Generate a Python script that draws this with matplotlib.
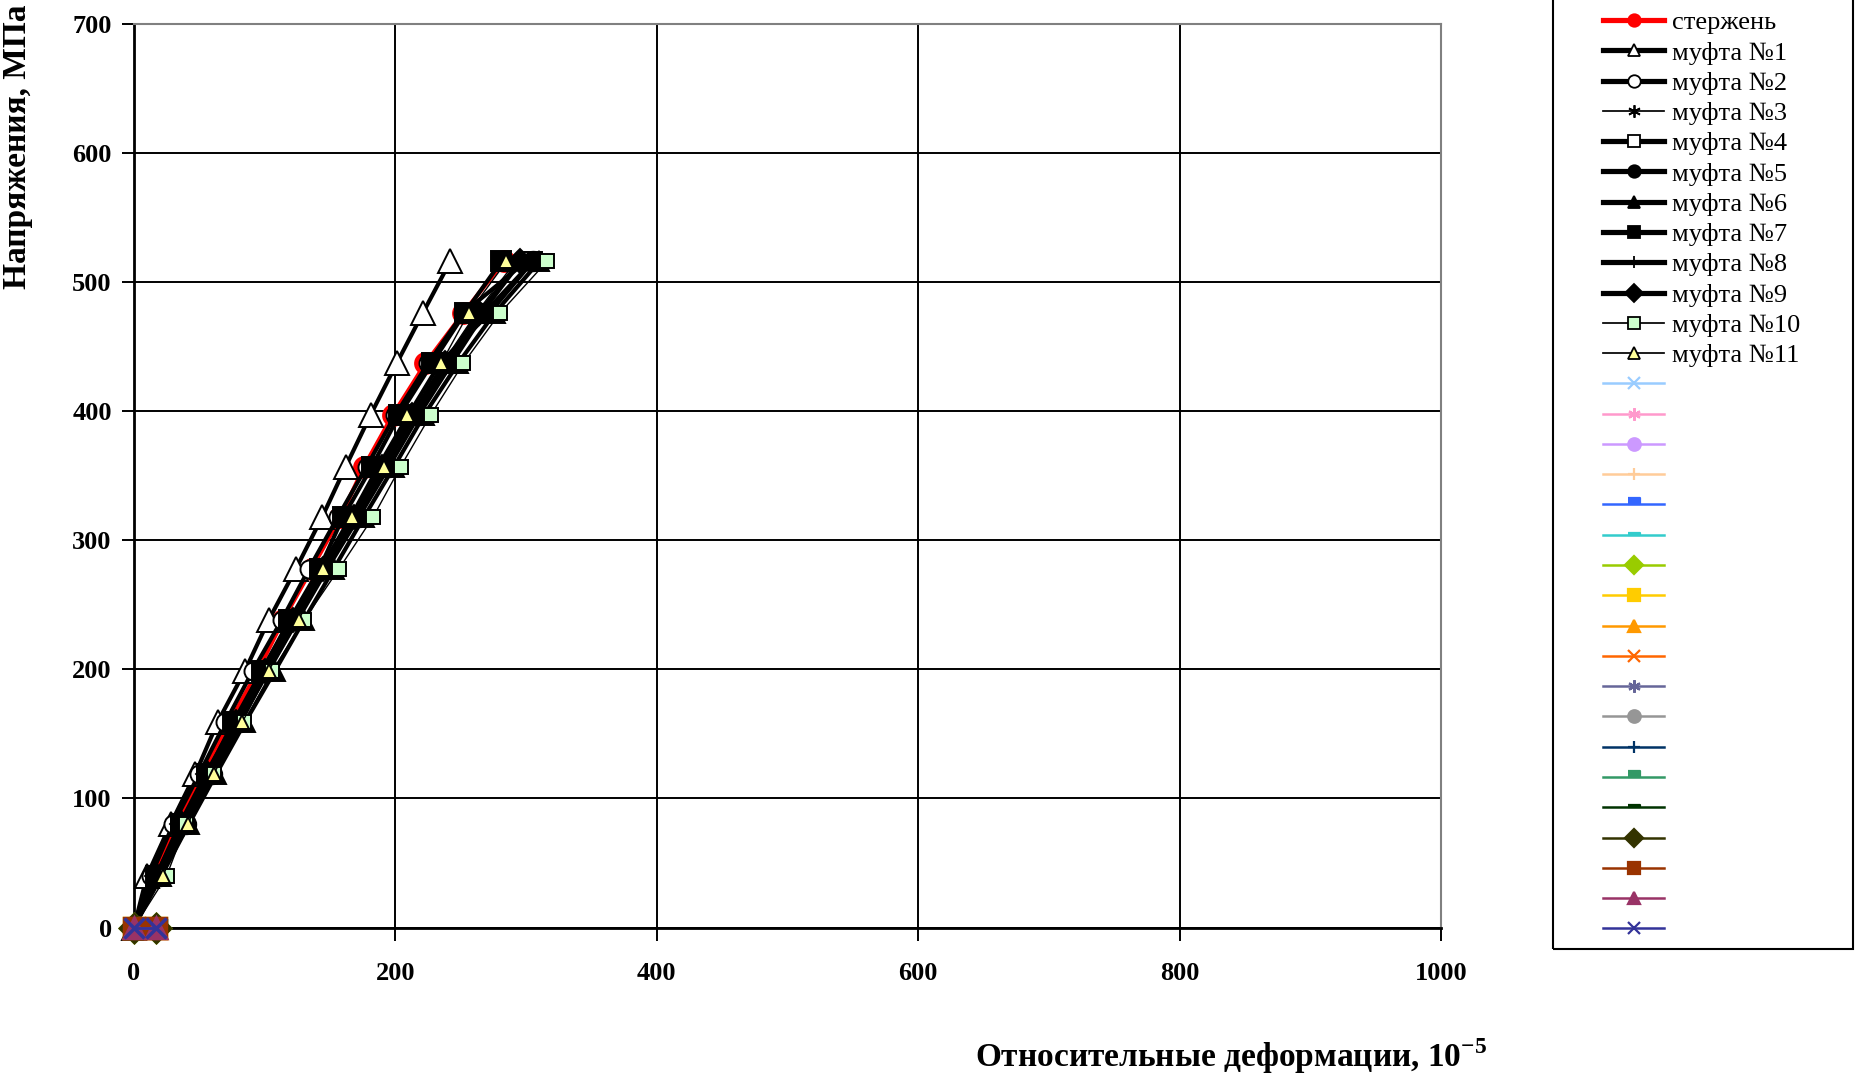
import matplotlib
matplotlib.use("Agg")
import matplotlib.pyplot as plt
from matplotlib.lines import Line2D
from matplotlib.patches import Rectangle

plt.rcParams['font.family'] = ['Liberation Serif', 'DejaVu Serif']
plt.rcParams['mathtext.fontset'] = 'custom'
plt.rcParams['mathtext.rm'] = 'Liberation Serif'
plt.rcParams['mathtext.bf'] = 'Liberation Serif:bold'

# stress levels, MPa
stress = [0, 40, 80, 119, 159, 199, 238, 278, 318, 357, 397, 437, 476, 516]

# relative strain, 1e-5
rod = [0, 15, 33, 53, 73, 95, 114, 136, 158, 176, 198, 223, 252, 283]
c1 = [0, 10, 28, 47, 64, 85, 103, 124, 144, 162, 181, 201, 221, 242]
c2 = [0, 13, 30, 50, 70, 91, 113, 134, 156, 178, 200, 225, 252, 300]
c3 = [0, 18, 38, 57, 79, 101, 122, 145, 168, 190, 212, 236, 262, 292]
c4 = [0, 17, 35, 55, 77, 98, 120, 143, 166, 187, 210, 234, 272, 305]
c5 = [0, 20, 40, 60, 81, 103, 125, 148, 172, 195, 218, 243, 268, 305]
c6 = [0, 21, 42, 63, 85, 108, 130, 153, 176, 199, 222, 248, 276, 310]
c7 = [0, 17, 36, 56, 76, 98, 119, 142, 160, 182, 203, 228, 253, 281]
c8 = [0, 19, 39, 59, 80, 102, 124, 147, 170, 192, 215, 240, 266, 296]
c9 = [0, 18, 37, 57, 78, 100, 122, 145, 168, 190, 213, 238, 264, 295]
c10 = [0, 25, 40, 61, 84, 106, 130, 157, 183, 204, 227, 252, 280, 316]
c11 = [0, 22, 41, 61, 83, 103, 126, 145, 167, 191, 209, 235, 256, 285]

labels = ['стержень', 'муфта №1', 'муфта №2', 'муфта №3', 'муфта №4', 'муфта №5',
          'муфта №6', 'муфта №7', 'муфта №8', 'муфта №9', 'муфта №10', 'муфта №11']
series = [rod, c1, c2, c3, c4, c5, c6, c7, c8, c9, c10, c11]

# leftover empty series sitting at the origin
empty_x = [0, 17]
empty_y = [0, 0]
empty_colors = ['#99CCFF', '#FF99CC', '#CC99FF', '#FFCC99', '#3366FF', '#33CCCC', '#99CC00',
                '#FFCC00', '#FF9900', '#FF6600', '#666699', '#969696', '#003366', '#339966',
                '#003300', '#333300', '#993300', '#993366', '#333399']

short_dash = [(-0.5, 0), (0.5, 0), (0.5, 0.45), (-0.5, 0.45)]
long_dash = [(-1, 0), (1, 0), (1, 0.4), (-1, 0.4)]
asterisk = (6, 2, 0)
empty_markers = ['x', asterisk, 'o', '+', short_dash, long_dash, 'D', 's', '^', 'x',
                 asterisk, 'o', '+', short_dash, long_dash, 'D', 's', '^', 'x']

# (color, linewidth, marker, face, markersize)
styles = [
    ('red', 3.0, 'o', 'red', 15),
    ('black', 3.0, '^', 'white', 17),
    ('black', 3.0, 'o', 'white', 13),
    ('black', 1.0, asterisk, 'black', 10),
    ('black', 3.0, 's', 'white', 13),
    ('black', 3.0, 'o', 'black', 14),
    ('black', 3.0, '^', 'black', 15),
    ('black', 3.0, 's', 'black', 14),
    ('black', 3.0, '+', 'black', 13),
    ('black', 3.0, 'D', 'black', 12),
    ('black', 1.0, 's', '#CCFFCC', 10),
    ('black', 1.0, '^', '#FFFF99', 10),
]

fig = plt.figure(figsize=(18.55, 10.75), dpi=100)
ax = fig.add_axes([0.0722, 0.1372, 0.7046, 0.8405])

handles = []
for x, (color, lw, mk, face, ms) in zip(series, styles):
    edge = 'black' if color == 'black' else color
    ax.plot(x, stress, color=color, lw=lw, marker=mk, markerfacecolor=face,
            markeredgecolor=edge, markersize=ms, markeredgewidth=1.4, clip_on=False, zorder=3)
    handles.append(Line2D([], [], color=color, lw=lw * 1.25, marker=mk, markerfacecolor=face,
                          markeredgecolor=edge, markersize=9, markeredgewidth=1.3))

for color, mk in zip(empty_colors, empty_markers):
    ax.plot(empty_x, empty_y, color=color, lw=2, marker=mk, markerfacecolor=color,
            markeredgecolor=color, markersize=14, markeredgewidth=2.5, clip_on=False, zorder=3)
    handles.append(Line2D([], [], color=color, lw=1.8, marker=mk, markerfacecolor=color,
                          markeredgecolor=color, markersize=9, markeredgewidth=1.6))

all_labels = labels + [' '] * len(empty_colors)

ax.set_xlim(0, 1000)
ax.set_ylim(0, 700)
ax.set_xticks([0, 200, 400, 600, 800, 1000])
ax.set_yticks([0, 100, 200, 300, 400, 500, 600, 700])
ax.grid(True, color='black', lw=1.4)
ax.set_axisbelow(True)
ax.tick_params(direction='out', length=9, width=1.4, labelsize=19)
ax.tick_params(axis='x', pad=16)
ax.tick_params(axis='y', pad=7)
for lab in ax.get_xticklabels() + ax.get_yticklabels():
    lab.set_fontweight('bold')
ax.spines['left'].set_linewidth(2)
ax.spines['bottom'].set_linewidth(2)
ax.spines['top'].set_color('#808080')
ax.spines['right'].set_color('#808080')
ax.spines['top'].set_linewidth(1.5)
ax.spines['right'].set_linewidth(1.5)

fig.text(0.6636, 0.0177, 'Относительные деформации, 10$^{\\mathbf{-5}}$', fontsize=24,
         fontweight='bold', ha='center', va='center')
fig.text(0.0095, 0.996, 'Напряжения, МПа', fontsize=24, fontweight='bold',
         rotation=90, ha='center', va='top')

# legend frame like the Excel box, cut by the top edge
fig.add_artist(Rectangle((0.8372, 0.1172), 0.1617, 0.9, transform=fig.transFigure,
                         fill=False, edgecolor='black', lw=1.5, clip_on=False))
leg = fig.legend(handles, all_labels, loc='upper left', bbox_to_anchor=(1603 / 1855, 0.990),
                 bbox_transform=fig.transFigure, fontsize=19, frameon=False,
                 borderaxespad=0, borderpad=0, handlelength=2.33, handletextpad=0.27,
                 labelspacing=0.258)

fig.savefig('out.png', dpi=100)
